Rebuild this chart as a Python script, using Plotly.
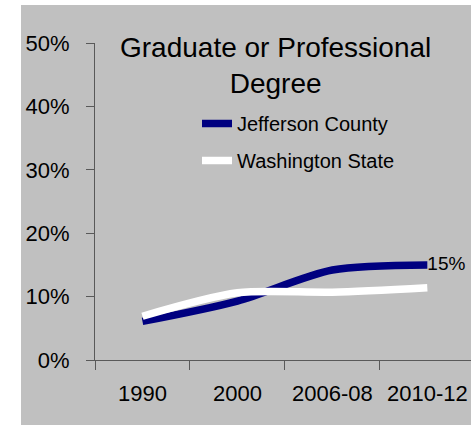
import plotly.graph_objects as go

categories = ["1990", "2000", "2006-08", "2010-12"]
jefferson = [0.061, 0.093, 0.142, 0.150]
washington = [0.069, 0.106, 0.107, 0.114]
y_ticks = [0, 0.1, 0.2, 0.3, 0.4, 0.5]
y_tick_labels = ["0%", "10%", "20%", "30%", "40%", "50%"]
jeff_labels = ["", "", "", "15%"]

FONT = "Liberation Sans, Arial, sans-serif"
W, H = 471, 426
ML, MR, MT, MB = 95, 0, 43, 66
PW = W - ML - MR
PH = H - MT - MB

def px_x(p):
    return (p - ML) / PW

def px_y(p):
    return (H - MB - p) / PH

fig = go.Figure()
fig.add_trace(go.Scatter(
    x=categories, y=jefferson, name="Jefferson County",
    mode="lines+text", text=jeff_labels, textposition="middle right",
    textfont=dict(family=FONT, size=19, color="#000000"),
    line=dict(color="#000080", width=7.5, shape="spline", smoothing=0.8),
    cliponaxis=False, legendgroup="a",
))
fig.add_trace(go.Scatter(
    x=categories, y=washington, name="Washington State",
    mode="lines",
    line=dict(color="#ffffff", width=7.5, shape="spline", smoothing=0.8),
    cliponaxis=False, legendgroup="b",
))

fig.add_shape(type="rect", xref="paper", yref="paper",
              x0=px_x(21), x1=px_x(475), y0=px_y(425), y1=px_y(5),
              fillcolor="#c0c0c0", line=dict(width=0), layer="below")

fig.add_annotation(text="Graduate or Professional<br>Degree",
                   xref="paper", yref="paper", x=px_x(275.5), y=px_y(65),
                   xanchor="center", yanchor="middle", showarrow=False,
                   font=dict(family=FONT, size=28, color="#000000"))

fig.update_layout(
    width=W, height=H,
    margin=dict(l=ML, r=MR, t=MT, b=MB, pad=0),
    paper_bgcolor="#ffffff", plot_bgcolor="rgba(0,0,0,0)",
    showlegend=True,
    legend=dict(x=px_x(197), y=px_y(104), xanchor="left", yanchor="top",
                bgcolor="rgba(0,0,0,0)", borderwidth=0,
                font=dict(family=FONT, size=20, color="#000000"),
                traceorder="grouped", tracegroupgap=8),
    xaxis=dict(type="category", range=[-0.5, 3.46], showgrid=False,
               showline=True, linecolor="#595959", linewidth=1,
               ticks="outside", tickson="boundaries", ticklen=9,
               tickcolor="#595959", tickwidth=1, ticklabelstandoff=14,
               tickfont=dict(family=FONT, size=22, color="#000000"),
               zeroline=False, fixedrange=True),
    yaxis=dict(range=[0, 0.5], tickvals=y_ticks, ticktext=y_tick_labels,
               showgrid=False, showline=True, linecolor="#595959", linewidth=1,
               ticks="outside", ticklen=8, tickcolor="#595959", tickwidth=1,
               ticklabelstandoff=12,
               tickfont=dict(family=FONT, size=22, color="#000000"),
               zeroline=False, fixedrange=True),
)

fig.write_html(
    "out.html",
    config={"displayModeBar": False},
    post_script="document.body.style.margin='0';document.body.style.overflow='hidden';",
)
